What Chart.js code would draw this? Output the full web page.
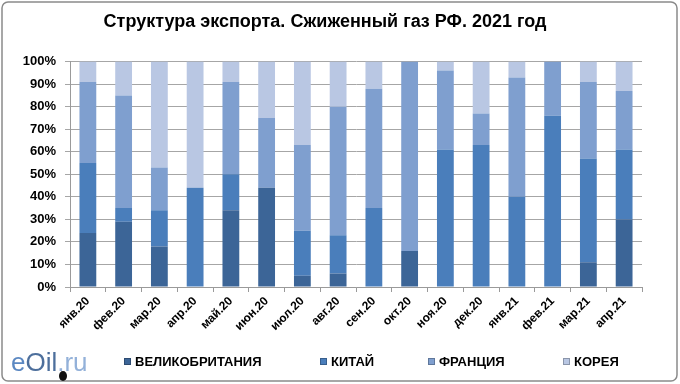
<!DOCTYPE html>
<html>
<head>
<meta charset="utf-8">
<script src="https://cdn.jsdelivr.net/npm/chart.js@4"></script>
<style>
  html, body { margin: 0; padding: 0; background: #fff; }
  #wrap { width: 680px; height: 384px; position: relative; }
</style>
</head>
<body>
<div id="wrap"><canvas id="chart" width="680" height="384"></canvas></div>
<script>
var months = ["янв.20", "фев.20", "мар.20", "апр.20", "май.20", "июн.20", "июл.20", "авг.20",
	"сен.20", "окт.20", "ноя.20", "дек.20", "янв.21", "фев.21", "мар.21", "апр.21"];
var uk     = [24, 29, 18, 0, 34, 44, 5, 6, 0, 16, 0, 0, 0, 0, 11, 30];
var china  = [31, 6, 16, 44, 16, 0, 20, 17, 35, 0, 61, 63, 40, 76, 46, 31];
var france = [36, 50, 19, 0, 41, 31, 38, 57, 53, 84, 35, 14, 53, 24, 34, 26];
var korea  = [9, 15, 47, 56, 9, 25, 37, 20, 12, 0, 4, 23, 7, 0, 9, 13];
var yTicks = [0, 10, 20, 30, 40, 50, 60, 70, 80, 90, 100];

var font = "'Liberation Sans', Arial, sans-serif";

// frame, legend and logo
var decor = {
	id: "decor",
	beforeDraw: function (chart) {
		var ctx = chart.ctx;
		ctx.save();
		ctx.fillStyle = "#fff";
		ctx.fillRect(0, 0, chart.width, chart.height);
		ctx.strokeStyle = "#8a8a8a";
		ctx.lineWidth = 1.5;
		ctx.beginPath();
		ctx.roundRect(2, 2, 675, 379, 6);
		ctx.stroke();
		ctx.restore();
	},
	afterDraw: function (chart) {
		var ctx = chart.ctx;
		ctx.save();
		var xs = [124, 320, 428, 563];
		ctx.font = "bold 13px " + font;
		ctx.textBaseline = "middle";
		chart.data.datasets.forEach(function (ds, i) {
			ctx.fillStyle = ds.backgroundColor;
			ctx.fillRect(xs[i], 358, 7, 7);
			ctx.strokeStyle = "rgba(0,0,0,0.25)";
			ctx.lineWidth = 1;
			ctx.strokeRect(xs[i] + 0.5, 358.5, 6, 6);
			ctx.fillStyle = "#000";
			ctx.fillText(ds.label, xs[i] + 11, 362);
		});

		// eOil.ru logo
		ctx.textBaseline = "alphabetic";
		ctx.font = "26px " + font;
		ctx.fillStyle = "#5b88c2";
		ctx.fillText("e", 11, 371);
		var w = ctx.measureText("e").width;
		ctx.fillStyle = "#4d6f9c";
		ctx.fillText("Oil", 11 + w, 371);
		w += ctx.measureText("Oil").width;
		ctx.fillStyle = "#93b1d9";
		ctx.fillText(".ru", 11 + w, 371);
		ctx.fillStyle = "#111";
		ctx.beginPath();
		ctx.ellipse(63, 376, 4, 5, 0, 0, Math.PI * 2);
		ctx.fill();
		ctx.restore();
	}
};

new Chart(document.getElementById("chart"), {
	type: "bar",
	data: {
		labels: months,
		datasets: [
			{ label: "ВЕЛИКОБРИТАНИЯ", data: uk, backgroundColor: "#3c6597" },
			{ label: "КИТАЙ", data: china, backgroundColor: "#4a7ebb" },
			{ label: "ФРАНЦИЯ", data: france, backgroundColor: "#7f9fcf" },
			{ label: "КОРЕЯ", data: korea, backgroundColor: "#b9c7e3" }
		]
	},
	options: {
		responsive: false,
		animation: false,
		layout: { padding: { left: 8, right: 38, top: 0, bottom: 40 } },
		datasets: { bar: { barPercentage: 0.47, categoryPercentage: 1 } },
		plugins: {
			legend: { display: false },
			tooltip: { enabled: false },
			title: {
				display: true,
				text: "Структура экспорта. Сжиженный газ РФ. 2021 год",
				color: "#000",
				font: { family: font, size: 18, weight: "bold" },
				padding: { top: 11, bottom: 29 }
			}
		},
		scales: {
			x: {
				stacked: true,
				grid: { drawOnChartArea: false, drawTicks: true, tickLength: 5, color: "#9a9a9a", offset: true },
				border: { color: "#9a9a9a" },
				ticks: {
					color: "#000",
					font: { family: font, size: 12, weight: "bold" },
					minRotation: 45, maxRotation: 45, padding: 2
				},
				afterFit: function (scale) { scale.height = 57; }
			},
			y: {
				stacked: true,
				min: 0, max: 100,
				afterBuildTicks: function (scale) {
					scale.ticks = yTicks.map(function (v) { return { value: v }; });
				},
				grid: { color: "#a6a6a6", tickLength: 5, lineWidth: 1 },
				border: { color: "#9a9a9a" },
				ticks: {
					color: "#000",
					font: { family: font, size: 13, weight: "bold" },
					padding: 9,
					callback: function (v) { return v + "%"; }
				},
				afterFit: function (scale) { scale.width = 62; }
			}
		}
	},
	plugins: [decor]
});
</script>
</body>
</html>
